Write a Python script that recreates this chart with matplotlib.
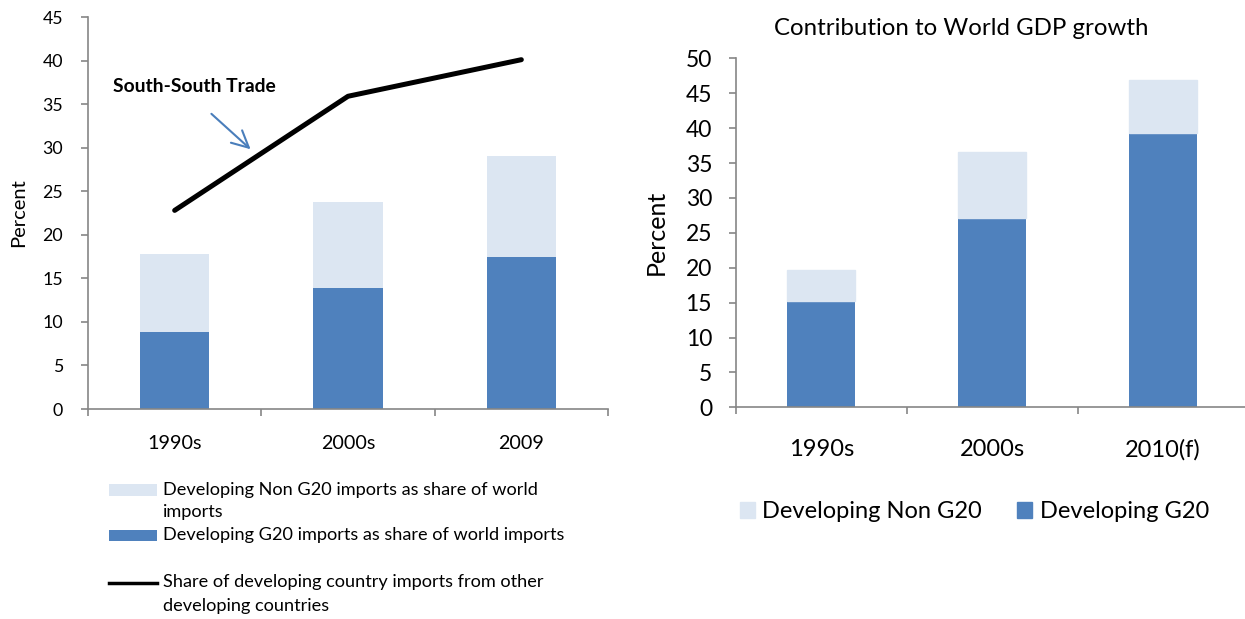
import matplotlib
matplotlib.use("Agg")
import matplotlib.pyplot as plt
from matplotlib.patches import Rectangle
from matplotlib.lines import Line2D
from matplotlib.ticker import FixedLocator, NullFormatter

plt.rcParams['font.family'] = ['Lato', 'DejaVu Sans']

# Left panel: imports as share of world imports
trade_periods = ["1990s", "2000s", "2009"]
g20_imports = [8.8, 13.9, 17.4]
non_g20_imports = [9.0, 9.9, 11.7]
south_south_share = [22.8, 35.9, 40.1]

# Right panel: contribution to world GDP growth
gdp_periods = ["1990s", "2000s", "2010(f)"]
g20_gdp = [15.2, 27.1, 39.3]
non_g20_gdp = [4.4, 9.5, 7.6]

DARK = "#4F81BD"
LIGHT = "#DCE6F2"
AXIS = "#868686"

fig = plt.figure(figsize=(12.45, 6.19), dpi=100)
W, H = 1245.0, 619.0


def fx(px):
    return px / W


def fy(py):
    return 1 - py / H


def style_axes(ax, n, ymax, step, fs_tick, ypad, xpad):
    for s in ("top", "right"):
        ax.spines[s].set_visible(False)
    for s in ("left", "bottom"):
        ax.spines[s].set_color(AXIS)
        ax.spines[s].set_linewidth(1.2)
    ax.set_xlim(-0.5, n - 0.5)
    ax.set_ylim(0, ymax)
    ax.set_yticks(range(0, ymax + 1, step))
    ax.tick_params(axis="y", direction="out", length=5, width=1.2, color=AXIS,
                   labelsize=fs_tick, pad=ypad)
    ax.set_xticks(range(n))
    ax.tick_params(axis="x", which="major", length=0, pad=xpad)
    ax.xaxis.set_minor_locator(FixedLocator([i - 0.5 for i in range(n + 1)]))
    ax.xaxis.set_minor_formatter(NullFormatter())
    ax.tick_params(axis="x", which="minor", direction="out", length=5, width=1.2,
                   color=AXIS)


# ---- Left panel ----
ax1 = fig.add_axes([88 / W, 1 - 409 / H, 520 / W, 392 / H])
x1 = range(len(trade_periods))
ax1.bar(x1, g20_imports, width=0.4, color=DARK, zorder=2)
ax1.bar(x1, non_g20_imports, width=0.4, bottom=g20_imports, color=LIGHT, zorder=2)
ax1.plot(x1, south_south_share, color="black", linewidth=3.6,
         solid_capstyle="round", solid_joinstyle="round", zorder=3)
style_axes(ax1, len(trade_periods), 45, 5, 12.8, 13, 19)
ax1.set_xticklabels(trade_periods, fontsize=14.2)
ax1.set_ylabel("Percent", fontsize=14.5, labelpad=11)

ax1.annotate("", xy=(0.45, 29.6), xytext=(0.2, 34.1),
             arrowprops=dict(arrowstyle="->,head_length=1.2,head_width=0.6",
                             color="#4A7EBB", lw=1.5))
ax1.text(0.112, 37.0, "South-South Trade", fontsize=13.9, fontweight="bold",
         ha="center", va="center")

# Left legend, drawn in figure pixels
fig.add_artist(Rectangle((fx(109), fy(496)), 48 / W, 12 / H, transform=fig.transFigure,
                         color=LIGHT, lw=0))
fig.add_artist(Rectangle((fx(109), fy(541)), 48 / W, 11 / H, transform=fig.transFigure,
                         color=DARK, lw=0))
fig.add_artist(Line2D([fx(109), fx(157)], [fy(583), fy(583)], transform=fig.transFigure,
                      color="black", linewidth=2.5))
leg_fs = 13.1
fig.text(fx(163), fy(490), "Developing Non G20 imports as share of world",
         fontsize=leg_fs, va="center")
fig.text(fx(163), fy(512), "imports", fontsize=leg_fs, va="center")
fig.text(fx(163), fy(535), "Developing G20 imports as share of world imports",
         fontsize=leg_fs, va="center")
fig.text(fx(163), fy(582), "Share of developing country imports from other",
         fontsize=leg_fs, va="center")
fig.text(fx(163), fy(606), "developing countries", fontsize=leg_fs, va="center")

# ---- Right panel ----
ax2 = fig.add_axes([735.7 / W, 1 - 407.3 / H, 513 / W, 349 / H])
x2 = range(len(gdp_periods))
ax2.bar(x2, g20_gdp, width=0.4, color=DARK, zorder=2)
ax2.bar(x2, non_g20_gdp, width=0.4, bottom=g20_gdp, color=LIGHT, zorder=2,
        edgecolor=LIGHT)
style_axes(ax2, len(gdp_periods), 50, 5, 16.5, 12, 23)
ax2.set_xticklabels(gdp_periods, fontsize=17)
ax2.set_ylabel("Percent", fontsize=18, labelpad=13)
ax2.set_title("Contribution to World GDP growth", fontsize=17.3, x=0.439, pad=17)

handles = [Rectangle((0, 0), 1, 1, color=LIGHT), Rectangle((0, 0), 1, 1, color=DARK)]
fig.legend(handles, ["Developing Non G20", "Developing G20"], ncol=2,
           loc="center left", bbox_to_anchor=(fx(740), fy(512)),
           frameon=False, fontsize=17, handlelength=0.64, handleheight=0.64,
           handletextpad=0.3, columnspacing=1.5, borderaxespad=0, borderpad=0)

fig.savefig("out.png", dpi=100)
